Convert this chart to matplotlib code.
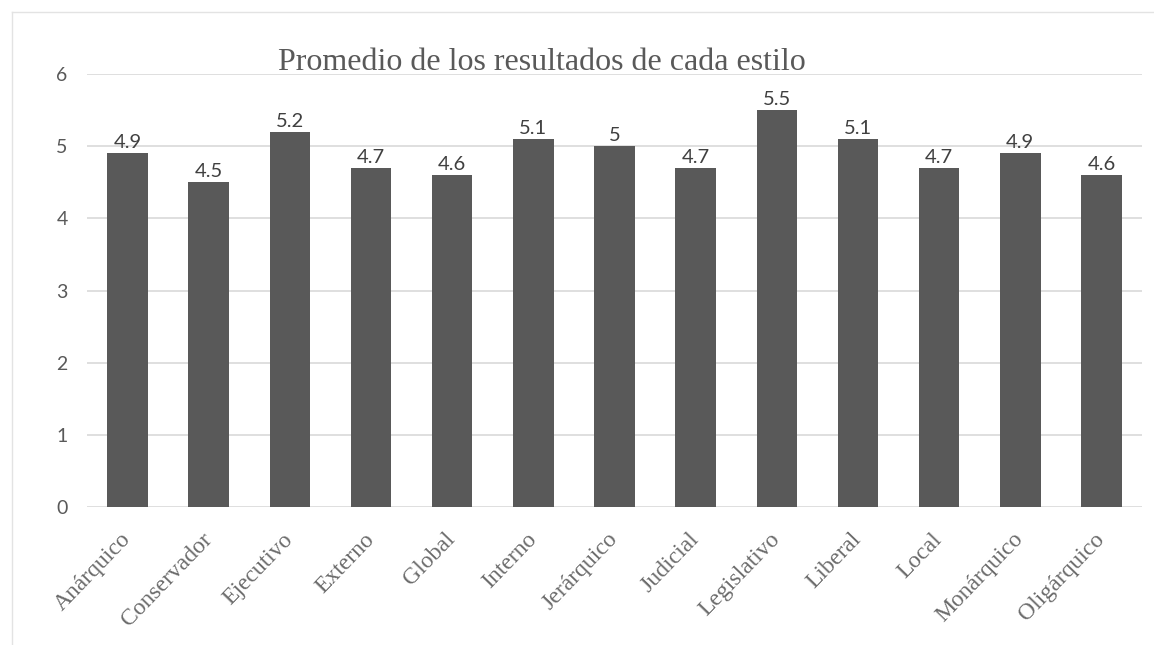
import matplotlib.pyplot as plt
from matplotlib.lines import Line2D

# Promedio de los resultados de cada estilo
categorias = ['Anárquico', 'Conservador', 'Ejecutivo', 'Externo', 'Global', 'Interno',
              'Jerárquico', 'Judicial', 'Legislativo', 'Liberal', 'Local', 'Monárquico',
              'Oligárquico']
promedios = [4.9, 4.5, 5.2, 4.7, 4.6, 5.1, 5, 4.7, 5.5, 5.1, 4.7, 4.9, 4.6]

W, H = 1154, 645
fig = plt.figure(figsize=(W / 100, H / 100), dpi=100)
ax = fig.add_axes([87 / W, 1 - 507 / H, (1142 - 87) / W, (507 - 74) / H])

x = range(len(categorias))
bars = ax.bar(x, promedios, width=0.5, color='#595959', zorder=3)

# etiquetas de datos
for b, v in zip(bars, promedios):
    ax.text(b.get_x() + b.get_width() / 2, v + 0.03, f'{v:g}', ha='center', va='bottom',
            fontsize=14.5, color='#404040', family='Lato')

ax.set_xlim(-0.5, len(categorias) - 0.5)
ax.set_ylim(0, 6)
ax.set_yticks(range(0, 7))
ax.yaxis.grid(True, color='#d9d9d9', linewidth=1.2, zorder=0)
ax.tick_params(axis='both', length=0)
ax.tick_params(axis='y', labelsize=14, labelcolor='#595959', pad=14)
for lbl in ax.get_yticklabels():
    lbl.set_family('Lato')
for s in ax.spines.values():
    s.set_visible(False)

ax.set_xticks(list(x))
ax.set_xticklabels(categorias, rotation=46, ha='right', va='center', rotation_mode='anchor',
                   family='Liberation Serif', fontsize=17, color='#6b6b6b')
ax.tick_params(axis='x', pad=21)

fig.text(542 / W, 1 - 62 / H, 'Promedio de los resultados de cada estilo', ha='center',
         va='center', family='Liberation Serif', fontsize=23, color='#595959')

# marco del grafico
fig.add_artist(Line2D([12 / W, 12 / W], [0, 1 - 12 / H], color='#e3e3e3', linewidth=1))
fig.add_artist(Line2D([12 / W, 1], [1 - 12 / H, 1 - 12 / H], color='#e3e3e3', linewidth=1))

fig.savefig('out.png', dpi=100)
